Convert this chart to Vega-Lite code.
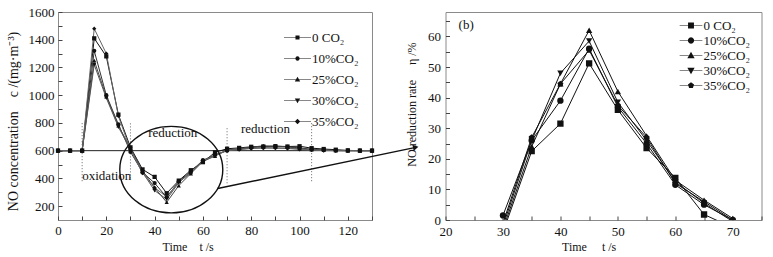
{
  "$schema": "https://vega.github.io/schema/vega-lite/v6.json",
  "background": "white",
  "padding": {"left": 5, "top": 5, "right": 5, "bottom": 5},
  "bounds": "flush",
  "spacing": 73.5,
  "config": {
    "font": "Liberation Serif",
    "view": {"stroke": "#8a8a8a", "strokeWidth": 1},
    "axis": {
      "domain": false,
      "grid": false,
      "tickSize": -4,
      "tickColor": "#444",
      "labelFlush": false,
      "labelFont": "Liberation Serif",
      "labelFontSize": 13,
      "labelColor": "#111",
      "titleFont": "Liberation Serif",
      "titleFontSize": 12,
      "titleFontWeight": "normal",
      "titleColor": "#111"
    },
    "legend": {
      "labelFont": "Liberation Serif",
      "labelFontSize": 13,
      "labelColor": "#111"
    }
  },
  "datasets": {
    "left": [
      {"s": "0 CO₂", "t": 0, "c": 600}, {"s": "0 CO₂", "t": 5, "c": 600}, {"s": "0 CO₂", "t": 10, "c": 600},
      {"s": "0 CO₂", "t": 15, "c": 1410}, {"s": "0 CO₂", "t": 20, "c": 1280}, {"s": "0 CO₂", "t": 25, "c": 860},
      {"s": "0 CO₂", "t": 30, "c": 624}, {"s": "0 CO₂", "t": 35, "c": 465}, {"s": "0 CO₂", "t": 40, "c": 411},
      {"s": "0 CO₂", "t": 45, "c": 293}, {"s": "0 CO₂", "t": 50, "c": 384}, {"s": "0 CO₂", "t": 55, "c": 459},
      {"s": "0 CO₂", "t": 60, "c": 517}, {"s": "0 CO₂", "t": 65, "c": 588}, {"s": "0 CO₂", "t": 70, "c": 614},
      {"s": "0 CO₂", "t": 75, "c": 620}, {"s": "0 CO₂", "t": 80, "c": 628}, {"s": "0 CO₂", "t": 85, "c": 630},
      {"s": "0 CO₂", "t": 90, "c": 632}, {"s": "0 CO₂", "t": 95, "c": 630}, {"s": "0 CO₂", "t": 100, "c": 632},
      {"s": "0 CO₂", "t": 105, "c": 618}, {"s": "0 CO₂", "t": 110, "c": 612}, {"s": "0 CO₂", "t": 115, "c": 607},
      {"s": "0 CO₂", "t": 120, "c": 602}, {"s": "0 CO₂", "t": 125, "c": 600}, {"s": "0 CO₂", "t": 130, "c": 600},

      {"s": "10%CO₂", "t": 0, "c": 600}, {"s": "10%CO₂", "t": 5, "c": 600}, {"s": "10%CO₂", "t": 10, "c": 600},
      {"s": "10%CO₂", "t": 15, "c": 1320}, {"s": "10%CO₂", "t": 20, "c": 1000}, {"s": "10%CO₂", "t": 25, "c": 790},
      {"s": "10%CO₂", "t": 30, "c": 591}, {"s": "10%CO₂", "t": 35, "c": 444}, {"s": "10%CO₂", "t": 40, "c": 366},
      {"s": "10%CO₂", "t": 45, "c": 264}, {"s": "10%CO₂", "t": 50, "c": 378}, {"s": "10%CO₂", "t": 55, "c": 450},
      {"s": "10%CO₂", "t": 60, "c": 531}, {"s": "10%CO₂", "t": 65, "c": 570}, {"s": "10%CO₂", "t": 70, "c": 600},
      {"s": "10%CO₂", "t": 75, "c": 612}, {"s": "10%CO₂", "t": 80, "c": 622}, {"s": "10%CO₂", "t": 85, "c": 630},
      {"s": "10%CO₂", "t": 90, "c": 633}, {"s": "10%CO₂", "t": 95, "c": 628}, {"s": "10%CO₂", "t": 100, "c": 620},
      {"s": "10%CO₂", "t": 105, "c": 610}, {"s": "10%CO₂", "t": 110, "c": 605}, {"s": "10%CO₂", "t": 115, "c": 602},
      {"s": "10%CO₂", "t": 120, "c": 600}, {"s": "10%CO₂", "t": 125, "c": 600}, {"s": "10%CO₂", "t": 130, "c": 600},

      {"s": "25%CO₂", "t": 0, "c": 600}, {"s": "25%CO₂", "t": 5, "c": 600}, {"s": "25%CO₂", "t": 10, "c": 600},
      {"s": "25%CO₂", "t": 15, "c": 1250}, {"s": "25%CO₂", "t": 20, "c": 990}, {"s": "25%CO₂", "t": 25, "c": 780},
      {"s": "25%CO₂", "t": 30, "c": 618}, {"s": "25%CO₂", "t": 35, "c": 456}, {"s": "25%CO₂", "t": 40, "c": 333},
      {"s": "25%CO₂", "t": 45, "c": 228}, {"s": "25%CO₂", "t": 50, "c": 348}, {"s": "25%CO₂", "t": 55, "c": 435},
      {"s": "25%CO₂", "t": 60, "c": 522}, {"s": "25%CO₂", "t": 65, "c": 561}, {"s": "25%CO₂", "t": 70, "c": 605},
      {"s": "25%CO₂", "t": 75, "c": 615}, {"s": "25%CO₂", "t": 80, "c": 625}, {"s": "25%CO₂", "t": 85, "c": 635},
      {"s": "25%CO₂", "t": 90, "c": 630}, {"s": "25%CO₂", "t": 95, "c": 628}, {"s": "25%CO₂", "t": 100, "c": 615},
      {"s": "25%CO₂", "t": 105, "c": 608}, {"s": "25%CO₂", "t": 110, "c": 603}, {"s": "25%CO₂", "t": 115, "c": 600},
      {"s": "25%CO₂", "t": 120, "c": 600}, {"s": "25%CO₂", "t": 125, "c": 600}, {"s": "25%CO₂", "t": 130, "c": 600},

      {"s": "30%CO₂", "t": 0, "c": 600}, {"s": "30%CO₂", "t": 5, "c": 600}, {"s": "30%CO₂", "t": 10, "c": 600},
      {"s": "30%CO₂", "t": 15, "c": 1220}, {"s": "30%CO₂", "t": 20, "c": 980}, {"s": "30%CO₂", "t": 25, "c": 770},
      {"s": "30%CO₂", "t": 30, "c": 612}, {"s": "30%CO₂", "t": 35, "c": 444}, {"s": "30%CO₂", "t": 40, "c": 312},
      {"s": "30%CO₂", "t": 45, "c": 249}, {"s": "30%CO₂", "t": 50, "c": 369}, {"s": "30%CO₂", "t": 55, "c": 444},
      {"s": "30%CO₂", "t": 60, "c": 525}, {"s": "30%CO₂", "t": 65, "c": 567}, {"s": "30%CO₂", "t": 70, "c": 603},
      {"s": "30%CO₂", "t": 75, "c": 610}, {"s": "30%CO₂", "t": 80, "c": 618}, {"s": "30%CO₂", "t": 85, "c": 622},
      {"s": "30%CO₂", "t": 90, "c": 620}, {"s": "30%CO₂", "t": 95, "c": 618}, {"s": "30%CO₂", "t": 100, "c": 612},
      {"s": "30%CO₂", "t": 105, "c": 605}, {"s": "30%CO₂", "t": 110, "c": 602}, {"s": "30%CO₂", "t": 115, "c": 600},
      {"s": "30%CO₂", "t": 120, "c": 600}, {"s": "30%CO₂", "t": 125, "c": 600}, {"s": "30%CO₂", "t": 130, "c": 600},

      {"s": "35%CO₂", "t": 0, "c": 600}, {"s": "35%CO₂", "t": 5, "c": 600}, {"s": "35%CO₂", "t": 10, "c": 600},
      {"s": "35%CO₂", "t": 15, "c": 1480}, {"s": "35%CO₂", "t": 20, "c": 1300}, {"s": "35%CO₂", "t": 25, "c": 850},
      {"s": "35%CO₂", "t": 30, "c": 606}, {"s": "35%CO₂", "t": 35, "c": 438}, {"s": "35%CO₂", "t": 40, "c": 333},
      {"s": "35%CO₂", "t": 45, "c": 267}, {"s": "35%CO₂", "t": 50, "c": 375}, {"s": "35%CO₂", "t": 55, "c": 438},
      {"s": "35%CO₂", "t": 60, "c": 528}, {"s": "35%CO₂", "t": 65, "c": 564}, {"s": "35%CO₂", "t": 70, "c": 600},
      {"s": "35%CO₂", "t": 75, "c": 608}, {"s": "35%CO₂", "t": 80, "c": 615}, {"s": "35%CO₂", "t": 85, "c": 618},
      {"s": "35%CO₂", "t": 90, "c": 618}, {"s": "35%CO₂", "t": 95, "c": 615}, {"s": "35%CO₂", "t": 100, "c": 610},
      {"s": "35%CO₂", "t": 105, "c": 605}, {"s": "35%CO₂", "t": 110, "c": 600}, {"s": "35%CO₂", "t": 115, "c": 600},
      {"s": "35%CO₂", "t": 120, "c": 600}, {"s": "35%CO₂", "t": 125, "c": 600}, {"s": "35%CO₂", "t": 130, "c": 600}
    ],
    "right": [
      {"s": "0 CO₂", "t": 30, "e": -4}, {"s": "0 CO₂", "t": 35, "e": 22.5}, {"s": "0 CO₂", "t": 40, "e": 31.5},
      {"s": "0 CO₂", "t": 45, "e": 51.2}, {"s": "0 CO₂", "t": 50, "e": 36}, {"s": "0 CO₂", "t": 55, "e": 23.5},
      {"s": "0 CO₂", "t": 60, "e": 13.8}, {"s": "0 CO₂", "t": 65, "e": 1.8}, {"s": "0 CO₂", "t": 70, "e": -2.5},
      {"s": "10%CO₂", "t": 30, "e": 1.5}, {"s": "10%CO₂", "t": 35, "e": 26}, {"s": "10%CO₂", "t": 40, "e": 39},
      {"s": "10%CO₂", "t": 45, "e": 56}, {"s": "10%CO₂", "t": 50, "e": 37}, {"s": "10%CO₂", "t": 55, "e": 25},
      {"s": "10%CO₂", "t": 60, "e": 11.5}, {"s": "10%CO₂", "t": 65, "e": 5}, {"s": "10%CO₂", "t": 70, "e": 0},
      {"s": "25%CO₂", "t": 30, "e": -3}, {"s": "25%CO₂", "t": 35, "e": 24}, {"s": "25%CO₂", "t": 40, "e": 44.5},
      {"s": "25%CO₂", "t": 45, "e": 62}, {"s": "25%CO₂", "t": 50, "e": 42}, {"s": "25%CO₂", "t": 55, "e": 27.5},
      {"s": "25%CO₂", "t": 60, "e": 13}, {"s": "25%CO₂", "t": 65, "e": 6.5}, {"s": "25%CO₂", "t": 70, "e": 0.5},
      {"s": "30%CO₂", "t": 30, "e": -2}, {"s": "30%CO₂", "t": 35, "e": 26}, {"s": "30%CO₂", "t": 40, "e": 48},
      {"s": "30%CO₂", "t": 45, "e": 58.5}, {"s": "30%CO₂", "t": 50, "e": 38.5}, {"s": "30%CO₂", "t": 55, "e": 26},
      {"s": "30%CO₂", "t": 60, "e": 12.5}, {"s": "30%CO₂", "t": 65, "e": 5.5}, {"s": "30%CO₂", "t": 70, "e": -0.5},
      {"s": "35%CO₂", "t": 30, "e": -1}, {"s": "35%CO₂", "t": 35, "e": 27}, {"s": "35%CO₂", "t": 40, "e": 44.5},
      {"s": "35%CO₂", "t": 45, "e": 55.5}, {"s": "35%CO₂", "t": 50, "e": 37.5}, {"s": "35%CO₂", "t": 55, "e": 27},
      {"s": "35%CO₂", "t": 60, "e": 12}, {"s": "35%CO₂", "t": 65, "e": 6}, {"s": "35%CO₂", "t": 70, "e": 0}
    ],
    "series": [
      {"s": "0 CO₂"}, {"s": "10%CO₂"}, {"s": "25%CO₂"}, {"s": "30%CO₂"}, {"s": "35%CO₂"}
    ]
  },
  "hconcat": [
    {
      "width": 314,
      "height": 208,
      "layer": [
        {
          "data": {"values": [{"y": 600}]},
          "mark": {"type": "rule", "color": "#222", "strokeWidth": 1},
          "encoding": {"y": {"field": "y", "type": "quantitative"}}
        },
        {
          "data": {"values": [
            {"x": 10, "y1": 380, "y2": 800},
            {"x": 30, "y1": 400, "y2": 800},
            {"x": 70, "y1": 365, "y2": 775},
            {"x": 105, "y1": 380, "y2": 800}
          ]},
          "mark": {"type": "rule", "color": "#666", "strokeWidth": 1, "strokeDash": [1, 2]},
          "encoding": {
            "x": {"field": "x", "type": "quantitative"},
            "y": {"field": "y1", "type": "quantitative"},
            "y2": {"field": "y2"}
          }
        },
        {
          "data": {"name": "left"},
          "mark": {"type": "line", "strokeWidth": 1},
          "encoding": {
            "x": {"field": "t", "type": "quantitative"},
            "y": {"field": "c", "type": "quantitative"},
            "detail": {"field": "s"},
            "color": {"field": "s", "type": "nominal", "legend": null,
              "scale": {"domain": ["0 CO₂", "10%CO₂", "25%CO₂", "30%CO₂", "35%CO₂"],
                        "range": ["#111", "#333", "#444", "#555", "#666"]}}
          }
        },
        {
          "data": {"name": "left"},
          "mark": {"type": "point", "filled": true, "color": "#111", "size": 18, "opacity": 1},
          "encoding": {
            "x": {"field": "t", "type": "quantitative"},
            "y": {"field": "c", "type": "quantitative"},
            "shape": {"field": "s", "type": "nominal", "legend": null,
              "scale": {"domain": ["0 CO₂", "10%CO₂", "25%CO₂", "30%CO₂", "35%CO₂"],
                        "range": ["square", "circle", "triangle-up", "triangle-down", "diamond"]}}
          }
        },
        {
          "data": {"values": [
            {"x": 20.2, "y": 415, "label": "oxidation"},
            {"x": 47.5, "y": 724, "label": "reduction"},
            {"x": 85.9, "y": 756, "label": "reduction"}
          ]},
          "mark": {"type": "text", "fontSize": 13, "font": "Liberation Serif", "color": "#111", "align": "center", "baseline": "middle"},
          "encoding": {
            "x": {"field": "x", "type": "quantitative"},
            "y": {"field": "y", "type": "quantitative"},
            "text": {"field": "label"}
          }
        },
        {
          "data": {"values": [{"x": 46.9, "y": 463}]},
          "mark": {"type": "point", "filled": false, "stroke": "#111", "strokeWidth": 1.4, "opacity": 1, "size": 10609,
            "shape": "M1,0 C1,0.464 0.552,0.84 0,0.84 C-0.552,0.84 -1,0.464 -1,0 C-1,-0.464 -0.552,-0.84 0,-0.84 C0.552,-0.84 1,-0.464 1,0 Z"},
          "encoding": {
            "x": {"field": "x", "type": "quantitative"},
            "y": {"field": "y", "type": "quantitative"}
          }
        },
        {
          "data": {"values": [{"x": 66.1, "y": 327}, {"x": 148.1, "y": 624}]},
          "mark": {"type": "line", "color": "#111", "strokeWidth": 1.4, "clip": false},
          "encoding": {
            "x": {"field": "x", "type": "quantitative"},
            "y": {"field": "y", "type": "quantitative"}
          }
        },
        {
          "data": {"values": [{"x": 148.1, "y": 624}]},
          "mark": {"type": "point", "shape": "triangle-right", "filled": true, "color": "#111", "opacity": 1, "size": 40, "angle": -11.7, "clip": false},
          "encoding": {
            "x": {"field": "x", "type": "quantitative"},
            "y": {"field": "y", "type": "quantitative"}
          }
        },
        {
          "data": {"name": "series"},
          "mark": {"type": "point", "filled": true, "color": "#111", "size": 0},
          "encoding": {
            "shape": {"field": "s", "type": "nominal", "title": null,
              "scale": {"domain": ["0 CO₂", "10%CO₂", "25%CO₂", "30%CO₂", "35%CO₂"],
                "range": [
                  "M-1,-0.022H-0.1V0.022H-1Z M0.1,-0.022H1V0.022H0.1Z M-0.15,-0.15H0.15V0.15H-0.15Z",
                  "M-1,-0.022H-0.1V0.022H-1Z M0.1,-0.022H1V0.022H0.1Z M0.16,0L0.139,0.08L0.08,0.139L0,0.16L-0.08,0.139L-0.139,0.08L-0.16,0L-0.139,-0.08L-0.08,-0.139L0,-0.16L0.08,-0.139L0.139,-0.08Z",
                  "M-1,-0.022H-0.1V0.022H-1Z M0.1,-0.022H1V0.022H0.1Z M0,-0.2L0.2,0.15L-0.2,0.15Z",
                  "M-1,-0.022H-0.1V0.022H-1Z M0.1,-0.022H1V0.022H0.1Z M0,0.2L0.2,-0.15L-0.2,-0.15Z",
                  "M-1,-0.022H-0.1V0.022H-1Z M0.1,-0.022H1V0.022H0.1Z M0,-0.2L0.2,0L0,0.2L-0.2,0Z"
                ]},
              "legend": {
                "orient": "none", "legendX": 226, "legendY": 12, "padding": 0,
                "symbolSize": 729, "symbolStrokeWidth": 0, "symbolFillColor": "#111",
                "symbolOpacity": 1, "labelOffset": 1, "rowPadding": -4.5,
                "encode": {"symbols": {"update": {"fill": {"value": "#111"}, "opacity": {"value": 1}}}}
              }
            }
          }
        }
      ],
      "resolve": {"scale": {"shape": "independent", "color": "independent"}},
      "encoding": {
        "x": {
          "scale": {"domain": [0, 130], "nice": false, "zero": false},
          "axis": {
            "values": [0, 10, 20, 30, 40, 50, 60, 70, 80, 90, 100, 110, 120, 130],
            "labelExpr": "datum.value % 20 === 0 && datum.value < 130 ? datum.label : ''",
            "labelPadding": 8,
            "title": "Time\u00a0\u00a0\u00a0\u00a0t /s",
            "titleAnchor": "start",
            "titleX": 104,
            "titlePadding": 4
          }
        },
        "y": {
          "scale": {"domain": [100, 1600], "nice": false, "zero": false},
          "axis": {
            "values": [200, 300, 400, 500, 600, 700, 800, 900, 1000, 1100, 1200, 1300, 1400, 1500, 1600],
            "labelExpr": "datum.value % 200 === 0 ? datum.label : ''",
            "format": "d",
            "labelPadding": 8,
            "title": "NO concentration\u00a0\u00a0\u00a0\u00a0c /(mg·m⁻³)",
            "titleFontSize": 14,
            "titlePadding": 8,
            "titleY": 109
          }
        }
      }
    },
    {
      "width": 316,
      "height": 208,
      "layer": [
        {
          "data": {"name": "right"},
          "mark": {"type": "line", "color": "#111", "strokeWidth": 1, "clip": true},
          "encoding": {
            "x": {"field": "t", "type": "quantitative"},
            "y": {"field": "e", "type": "quantitative"},
            "detail": {"field": "s"}
          }
        },
        {
          "data": {"name": "right"},
          "transform": [{"filter": "datum.e >= 0"}],
          "mark": {"type": "point", "filled": true, "color": "#111", "size": 40, "opacity": 1, "clip": true},
          "encoding": {
            "x": {"field": "t", "type": "quantitative"},
            "y": {"field": "e", "type": "quantitative"},
            "shape": {"field": "s", "type": "nominal", "legend": null,
              "scale": {"domain": ["0 CO₂", "10%CO₂", "25%CO₂", "30%CO₂", "35%CO₂"],
                        "range": ["square", "circle", "triangle-up", "triangle-down",
                                  "M0,-1L0.951,-0.309L0.588,0.809L-0.588,0.809L-0.951,-0.309Z"]}}
          }
        },
        {
          "data": {"values": [{"x": 23.6, "y": 63.6, "label": "(b)"}]},
          "mark": {"type": "text", "fontSize": 13, "font": "Liberation Serif", "color": "#111", "align": "center", "baseline": "middle"},
          "encoding": {
            "x": {"field": "x", "type": "quantitative"},
            "y": {"field": "y", "type": "quantitative"},
            "text": {"field": "label"}
          }
        },
        {
          "data": {"name": "series"},
          "mark": {"type": "point", "filled": true, "color": "#111", "size": 0},
          "encoding": {
            "shape": {"field": "s", "type": "nominal", "title": null,
              "scale": {"domain": ["0 CO₂", "10%CO₂", "25%CO₂", "30%CO₂", "35%CO₂"],
                "range": [
                  "M-1.746,-0.044H-0.35V0.044H-1.746Z M0.35,-0.044H1.746V0.044H0.35Z M-0.454,-0.454H0.454V0.454H-0.454Z",
                  "M-1.746,-0.044H-0.35V0.044H-1.746Z M0.35,-0.044H1.746V0.044H0.35Z M0.49,0L0.424,0.245L0.245,0.424L0,0.49L-0.245,0.424L-0.424,0.245L-0.49,0L-0.424,-0.245L-0.245,-0.424L0,-0.49L0.245,-0.424L0.424,-0.245Z",
                  "M-1.746,-0.044H-0.35V0.044H-1.746Z M0.35,-0.044H1.746V0.044H0.35Z M0,-0.56L0.56,0.42L-0.56,0.42Z",
                  "M-1.746,-0.044H-0.35V0.044H-1.746Z M0.35,-0.044H1.746V0.044H0.35Z M0,0.56L0.56,-0.42L-0.56,-0.42Z",
                  "M-1.746,-0.044H-0.35V0.044H-1.746Z M0.35,-0.044H1.746V0.044H0.35Z M0,-0.49L0.466,-0.152L0.288,0.397L-0.288,0.397L-0.466,-0.152Z"
                ]},
              "legend": {
                "orient": "none", "legendX": 239, "legendY": 7, "padding": 0,
                "symbolSize": 169, "symbolStrokeWidth": 0, "symbolFillColor": "#111",
                "symbolOpacity": 1, "labelOffset": 6, "rowPadding": 1,
                "encode": {"symbols": {"update": {"fill": {"value": "#111"}, "opacity": {"value": 1}}}}
              }
            }
          }
        }
      ],
      "resolve": {"scale": {"shape": "independent"}},
      "encoding": {
        "x": {
          "scale": {"domain": [20, 75], "nice": false, "zero": false},
          "axis": {
            "values": [20, 25, 30, 35, 40, 45, 50, 55, 60, 65, 70, 75],
            "labelExpr": "datum.value % 10 === 0 ? datum.label : ''",
            "labelPadding": 9,
            "title": "Time\u00a0\u00a0\u00a0\u00a0\u00a0t /s",
            "titleAnchor": "start",
            "titleX": 116,
            "titlePadding": 3
          }
        },
        "y": {
          "scale": {"domain": [0, 68], "nice": false, "zero": false},
          "axis": {
            "values": [0, 5, 10, 15, 20, 25, 30, 35, 40, 45, 50, 55, 60, 65],
            "labelExpr": "datum.value % 10 === 0 ? datum.label : ''",
            "labelPadding": 9,
            "title": "NO reduction rate\u00a0\u00a0\u00a0\u00a0\u00a0η /%",
            "titlePadding": 9,
            "titleY": 92
          }
        }
      }
    }
  ]
}
